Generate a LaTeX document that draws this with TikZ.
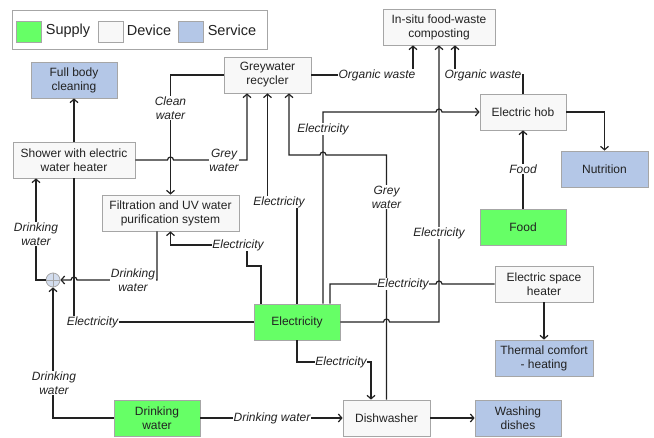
\documentclass[tikz,border=0pt]{standalone}
\usepackage{fontspec}
\setmainfont{Liberation Sans}
\usetikzlibrary{arrows.meta}
\definecolor{supplyc}{HTML}{66FF66}
\definecolor{servicec}{HTML}{B4C7E7}
\definecolor{devicec}{HTML}{F8F8F8}
\definecolor{boxline}{HTML}{A6A6A6}
\definecolor{inkc}{HTML}{222222}
\definecolor{jfill}{HTML}{D3DDEE}
\begin{document}
\begin{tikzpicture}[x=1pt,y=-1pt,
  box/.style={draw=boxline, line width=0.8pt, align=center, inner sep=0pt, minimum height=36pt,
    font=\fontsize{12}{14}\selectfont, text=inkc},
  dev/.style={box, fill=devicec},
  sup/.style={box, fill=supplyc},
  srv/.style={box, fill=servicec},
  conn/.style={draw=inkc, line width=1.2pt},
  ar/.style={conn, -{Straight Barb[length=3.5pt,width=8pt]}},
  lbl/.style={fill=white, inner sep=0.8pt, align=center, font=\fontsize{12}{14}\selectfont\itshape, text=inkc},
  swatch/.style={draw=boxline, line width=0.8pt, minimum width=25pt, minimum height=21pt, inner sep=0pt},
  legtext/.style={font=\fontsize{14.5}{16}\selectfont, text=inkc, inner sep=0pt}
]
\useasboundingbox (0,0) rectangle (654,438);
% legend
\node[draw=boxline, line width=0.8pt, fill=white, minimum width=255pt, minimum height=39pt, inner sep=0pt] (legend) at (139.5,29.5) {};
\node[swatch, fill=supplyc] (sw1) at (29,31.5) {};
\node[legtext] (lt1) at (68,30.5) {Supply};
\node[swatch, fill=devicec] (sw2) at (111,31.5) {};
\node[legtext] (lt2) at (149,30.5) {Device};
\node[swatch, fill=servicec] (sw3) at (191,31.5) {};
\node[legtext] (lt3) at (232,30.5) {Service};
% nodes
\node[srv, minimum width=86pt] (fbc) at (74,80) {Full body\\cleaning};
\node[dev, minimum width=87pt] (gwr) at (267.5,75) {Greywater\\recycler};
\node[dev, minimum width=112pt] (comp) at (439,27) {In-situ food-waste\\composting};
\node[dev, minimum width=122pt] (shower) at (74,160) {Shower with electric\\water heater};
\node[dev, minimum width=86pt] (hob) at (523,112) {Electric hob};
\node[srv, minimum width=87pt] (nutr) at (604.5,169) {Nutrition};
\node[dev, minimum width=137pt] (filt) at (170.5,213) {Filtration and UV water\\purification system};
\node[sup, minimum width=86pt] (food) at (523,227) {Food};
\node[dev, minimum width=98pt] (heater) at (544,284) {Electric space\\heater};
\node[sup, minimum width=86pt] (elec) at (297,322) {Electricity};
\node[srv, minimum width=98pt] (thermal) at (544,358) {Thermal comfort\\- heating};
\node[sup, minimum width=86pt] (dw) at (157,418) {Drinking\\water};
\node[dev, minimum width=87pt] (dish) at (386.5,418) {Dishwasher};
\node[srv, minimum width=86pt] (wash) at (518,418) {Washing\\dishes};
\node[circle, draw=boxline, line width=0.8pt, fill=jfill, minimum size=14pt, inner sep=0pt] (jn) at (53,280) {};
\draw[boxline, line width=0.6pt] (jn.north) -- (jn.south) (jn.west) -- (jn.east);
% connectors
\draw[ar] (shower.north) -- (fbc.south);
\draw[ar] (shower.east) -- (167.5,160) arc[start angle=180,end angle=360,radius=3] -- (247,160) -- ([xshift=-20.5pt]gwr.south);
\draw[ar] (gwr.west) -| (filt.north);
\draw[ar] ([xshift=-13.5pt]filt.south) -- (157,280) -- (77,280) arc[start angle=0,end angle=-180,radius=3] -- (jn.east);
\draw[ar] (jn.west) -- (36,280) -- ([xshift=-38pt]shower.south);
\draw[ar] (dw.west) -| (jn.south);
\draw[ar] (dw.east) -- (dish.west);
\draw[conn] (elec.west) -| (shower.south);
\draw[ar] ([xshift=-36pt]elec.north) -- (261,266) -- (247,266) -- (247,245) -- (170.5,245) -- (filt.south);
\draw[ar] (elec.north) -- (297,202) -- (267.5,202) -- (gwr.south);
\draw[ar] ([xshift=26pt]elec.north) -- (323,112) -- (436,112) arc[start angle=180,end angle=360,radius=3] -- (hob.west);
\draw[ar] (dish.north) -- (386.5,155) -- (326,155) arc[start angle=0,end angle=-180,radius=3] -- (289,155) -- ([xshift=21.5pt]gwr.south);
\draw[ar] (elec.east) -- (383.5,322) arc[start angle=180,end angle=360,radius=3] -- (439,322) -- (comp.south);
\draw[ar] (gwr.east) -- (413,75) -- ([xshift=-26pt]comp.south);
\draw[ar] (hob.north) -- (523,75) -- (455,75) -- ([xshift=16pt]comp.south);
\draw[ar] (food.north) -- (hob.south);
\draw[ar] (hob.east) -| (nutr.north);
\draw[conn] ([xshift=33pt]elec.north) -- (330,284) -- (436,284) arc[start angle=180,end angle=360,radius=3] -- (heater.west);
\draw[ar] (heater.south) -- (thermal.north);
\draw[ar] (elec.south) -- (297,362) -- (371,362) -- ([xshift=-15.5pt]dish.north);
\draw[ar] (dish.east) -- (wash.west);
% labels
\node[lbl] (l1) at (170.5,108) {Clean\\water};
\node[lbl] (l2) at (224,160) {Grey\\water};
\node[lbl] (l3) at (133,280) {Drinking\\water};
\node[lbl] (l4) at (36,234) {Drinking\\water};
\node[lbl] (l5) at (54,383) {Drinking\\water};
\node[lbl] (l6) at (272,418) {Drinking water};
\node[lbl] (l7) at (92.5,322) {Electricity};
\node[lbl] (l8) at (238,245) {Electricity};
\node[lbl] (l9) at (279,202) {Electricity};
\node[lbl] (l10) at (323,129) {Electricity};
\node[lbl] (l11) at (386.5,197) {Grey\\water};
\node[lbl] (l12) at (439,233) {Electricity};
\node[lbl] (l13) at (403,284) {Electricity};
\node[lbl] (l14) at (341,362) {Electricity};
\node[lbl] (l15) at (377,75) {Organic waste};
\node[lbl] (l16) at (483,75) {Organic waste};
\node[lbl] (l17) at (523,169) {Food};
\end{tikzpicture}
\end{document}
